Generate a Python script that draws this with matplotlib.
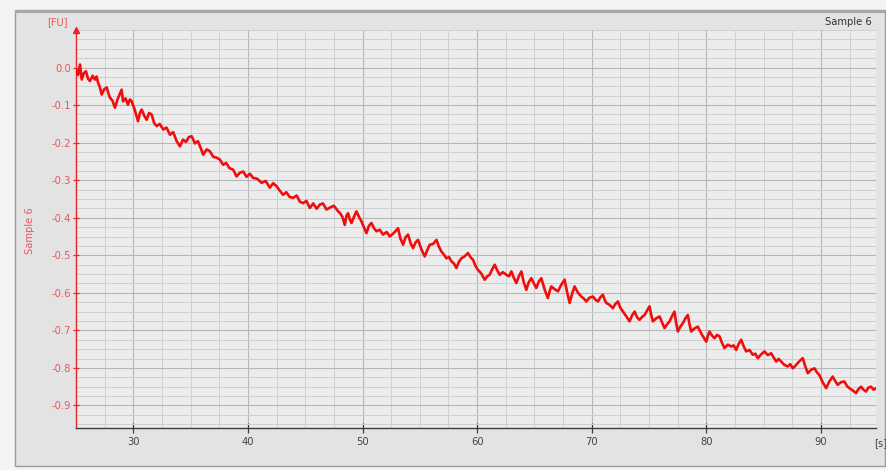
import matplotlib
matplotlib.use("Agg")
import matplotlib.pyplot as plt
from matplotlib.patches import Rectangle
from matplotlib.ticker import MultipleLocator

plt.rcParams["axes.unicode_minus"] = False
plt.rcParams["font.family"] = ["DejaVu Sans"]

# Fluorescence trace of Sample 6 (time in s, signal in FU)
time_s = [
    25.00, 25.18, 25.35, 25.50, 25.68, 25.87, 26.05, 26.22, 26.45, 26.66,
    26.80, 26.92, 27.08, 27.24, 27.45, 27.68, 27.82, 27.96, 28.18, 28.40,
    28.62, 28.80, 28.98, 29.10, 29.32, 29.53, 29.70, 29.86, 30.12, 30.41,
    30.58, 30.73, 30.95, 31.16, 31.38, 31.60, 31.82, 32.04, 32.30, 32.61,
    32.90, 33.20, 33.48, 33.78, 34.07, 34.33, 34.60, 34.85, 35.09, 35.38,
    35.64, 35.85, 36.10, 36.40, 36.68, 36.98, 37.27, 37.55, 37.84, 38.10,
    38.40, 38.71, 39.01, 39.30, 39.59, 39.88, 40.17, 40.46, 40.80, 41.19,
    41.55, 41.91, 42.20, 42.50, 42.78, 43.07, 43.35, 43.65, 43.95, 44.25,
    44.55, 44.82, 45.10, 45.40, 45.70, 46.00, 46.27, 46.55, 46.85, 47.15,
    47.50, 47.87, 48.02, 48.25, 48.45, 48.60, 48.74, 48.90, 49.04, 49.25,
    49.47, 49.70, 49.91, 50.12, 50.34, 50.55, 50.78, 51.00, 51.22, 51.50,
    51.79, 52.10, 52.38, 52.75, 53.10, 53.30, 53.54, 53.75, 53.97, 54.20,
    54.41, 54.62, 54.84, 55.15, 55.43, 55.65, 55.86, 56.15, 56.45, 56.65,
    56.88, 57.10, 57.32, 57.55, 57.75, 57.98, 58.19, 58.40, 58.63, 58.90,
    59.20, 59.42, 59.64, 59.85, 60.07, 60.35, 60.66, 60.88, 61.09, 61.30,
    61.53, 61.75, 61.97, 62.25, 62.55, 62.78, 62.99, 63.20, 63.42, 63.65,
    63.86, 64.05, 64.29, 64.50, 64.73, 64.95, 65.16, 65.38, 65.60, 65.90,
    66.17, 66.32, 66.47, 66.75, 67.05, 67.35, 67.63, 67.85, 68.07, 68.28,
    68.50, 68.80, 69.09, 69.30, 69.52, 69.80, 70.10, 70.32, 70.54, 70.75,
    70.97, 71.12, 71.27, 71.55, 71.84, 72.05, 72.28, 72.50, 72.72, 73.00,
    73.30, 73.52, 73.74, 73.95, 74.17, 74.40, 74.61, 74.82, 75.04, 75.18,
    75.33, 75.62, 75.92, 76.15, 76.35, 76.57, 76.79, 77.00, 77.22, 77.36,
    77.51, 77.73, 77.95, 78.17, 78.38, 78.53, 78.68, 78.95, 79.25, 79.62,
    79.99, 80.13, 80.27, 80.50, 80.71, 80.93, 81.15, 81.36, 81.58, 81.88,
    82.17, 82.38, 82.60, 82.82, 83.04, 83.25, 83.47, 83.76, 84.05, 84.27,
    84.49, 84.78, 85.07, 85.36, 85.65, 85.87, 86.09, 86.30, 86.52, 86.81,
    87.10, 87.32, 87.54, 87.75, 87.97, 88.19, 88.41, 88.63, 88.85, 89.14,
    89.43, 89.65, 89.86, 90.15, 90.45, 90.73, 91.02, 91.24, 91.46, 91.75,
    92.04, 92.26, 92.48, 92.77, 93.06, 93.28, 93.50, 93.71, 93.93, 94.15,
    94.37, 94.59, 94.81,
]
signal_fu = [
    -0.005, -0.020, 0.008, -0.032, -0.015, -0.010, -0.030, -0.036, -0.022, -0.032,
    -0.024, -0.040, -0.052, -0.072, -0.058, -0.053, -0.068, -0.080, -0.088, -0.107,
    -0.085, -0.072, -0.059, -0.090, -0.082, -0.099, -0.085, -0.090, -0.112, -0.143,
    -0.121, -0.112, -0.128, -0.139, -0.121, -0.125, -0.148, -0.156, -0.150, -0.165,
    -0.160, -0.179, -0.172, -0.196, -0.210, -0.192, -0.198, -0.185, -0.183, -0.202,
    -0.196, -0.212, -0.232, -0.218, -0.223, -0.238, -0.240, -0.245, -0.259, -0.254,
    -0.268, -0.272, -0.290, -0.280, -0.277, -0.291, -0.283, -0.294, -0.296, -0.307,
    -0.302, -0.320, -0.308, -0.316, -0.328, -0.339, -0.332, -0.345, -0.347, -0.341,
    -0.358, -0.361, -0.355, -0.374, -0.362, -0.376, -0.365, -0.362, -0.378, -0.373,
    -0.368, -0.383, -0.387, -0.398, -0.419, -0.395, -0.388, -0.405, -0.414, -0.398,
    -0.383, -0.398, -0.410, -0.425, -0.441, -0.422, -0.414, -0.428, -0.436, -0.432,
    -0.445, -0.438, -0.450, -0.440, -0.428, -0.455, -0.472, -0.452, -0.445, -0.468,
    -0.481, -0.466, -0.459, -0.485, -0.503, -0.486, -0.472, -0.470, -0.459, -0.476,
    -0.490, -0.498, -0.508, -0.505, -0.516, -0.522, -0.534, -0.518, -0.508, -0.503,
    -0.494, -0.505, -0.512, -0.528, -0.539, -0.548, -0.565, -0.556, -0.552, -0.538,
    -0.525, -0.540, -0.552, -0.545, -0.552, -0.556, -0.543, -0.560, -0.574, -0.555,
    -0.543, -0.570, -0.592, -0.572, -0.561, -0.575, -0.587, -0.570, -0.561, -0.592,
    -0.614, -0.596, -0.583, -0.590, -0.596, -0.578, -0.565, -0.598, -0.627, -0.603,
    -0.583, -0.600, -0.610, -0.615, -0.623, -0.613, -0.610, -0.618, -0.623, -0.612,
    -0.605, -0.618, -0.627, -0.632, -0.641, -0.630, -0.623, -0.640, -0.650, -0.662,
    -0.676, -0.660, -0.650, -0.665, -0.672, -0.664, -0.659, -0.648, -0.636, -0.658,
    -0.676, -0.668, -0.663, -0.680, -0.694, -0.684, -0.676, -0.662, -0.650, -0.680,
    -0.703, -0.690, -0.681, -0.668, -0.659, -0.684, -0.703, -0.695, -0.690, -0.712,
    -0.730, -0.715, -0.703, -0.714, -0.721, -0.712, -0.716, -0.733, -0.747, -0.738,
    -0.743, -0.740, -0.752, -0.736, -0.725, -0.742, -0.756, -0.752, -0.765, -0.762,
    -0.774, -0.764, -0.756, -0.766, -0.761, -0.772, -0.783, -0.776, -0.783, -0.792,
    -0.796, -0.790, -0.801, -0.795, -0.787, -0.780, -0.774, -0.796, -0.814, -0.805,
    -0.801, -0.812, -0.819, -0.838, -0.854, -0.836, -0.823, -0.835, -0.845, -0.838,
    -0.836, -0.848, -0.854, -0.860, -0.867, -0.856, -0.850, -0.858, -0.863, -0.852,
    -0.850, -0.858, -0.854,
]

x_ticks = [30, 40, 50, 60, 70, 80, 90]
y_ticks = [0.0, -0.1, -0.2, -0.3, -0.4, -0.5, -0.6, -0.7, -0.8, -0.9]

W, H = 886, 470
fig = plt.figure(figsize=(W / 100, H / 100), dpi=100)
fig.patch.set_facecolor("#f4f4f4")

# window panel behind the chart
fig.add_artist(Rectangle((15 / W, 4 / H), 870 / W, 456 / H, transform=fig.transFigure,
                         facecolor="#e3e3e3", edgecolor="#9a9a9a", lw=1.0, zorder=0))
fig.add_artist(Rectangle((15 / W, 457 / H), 870 / W, 3 / H, transform=fig.transFigure,
                         facecolor="#a8a8a8", edgecolor="none", zorder=0))

ax = fig.add_axes([76 / W, 1 - 428 / H, 800 / W, 398 / H])
ax.set_facecolor("#ececec")

red = "#e8262a"
label_red = "#e8565a"
dark = "#3c3c3c"

ax.plot(time_s, signal_fu, color="#f20d0d", lw=1.9, zorder=5)

ax.set_xlim(25, 94.8)
ax.set_ylim(-0.96, 0.10)

ax.xaxis.set_minor_locator(MultipleLocator(2.5))
ax.yaxis.set_minor_locator(MultipleLocator(0.025))
ax.set_xticks(x_ticks)
ax.set_yticks(y_ticks)
ax.set_yticklabels([f"{v:.1f}" for v in y_ticks])

ax.grid(which="major", color="#b3b6ba", lw=0.8, zorder=1)
ax.grid(which="minor", color="#cdd0d3", lw=0.7, zorder=1)
ax.set_axisbelow(True)

for side in ("top", "right"):
    ax.spines[side].set_visible(False)
ax.spines["left"].set_color(red)
ax.spines["left"].set_linewidth(1.0)
ax.spines["bottom"].set_color(dark)
ax.spines["bottom"].set_linewidth(1.0)

ax.tick_params(axis="y", which="major", direction="inout", length=5, width=0.9,
               colors=red, labelcolor=label_red, labelsize=7.2, pad=1)
ax.tick_params(axis="x", which="major", direction="inout", length=7, width=0.9,
               colors=dark, labelcolor="#444444", labelsize=7.2, pad=3)
ax.tick_params(which="minor", length=0)

# axis arrow and unit labels
ax.plot([0], [1.0], marker="^", color=red, markersize=5, transform=ax.transAxes,
        clip_on=False, zorder=6)
fig.text(57 / W, 1 - 22 / H, "[FU]", color=label_red, fontsize=7, ha="center", va="center")
fig.text(881 / W, 1 - 443 / H, "[s]", color="#444444", fontsize=7.2, ha="center", va="center")
fig.text(30 / W, 1 - 231 / H, "Sample 6", color=label_red, fontsize=7.2, rotation=90,
         ha="center", va="center")
fig.text(872 / W, 1 - 22 / H, "Sample 6", color="#333333", fontsize=7.2, ha="right",
         va="center")

fig.savefig("out.png", dpi=100, facecolor=fig.get_facecolor())
